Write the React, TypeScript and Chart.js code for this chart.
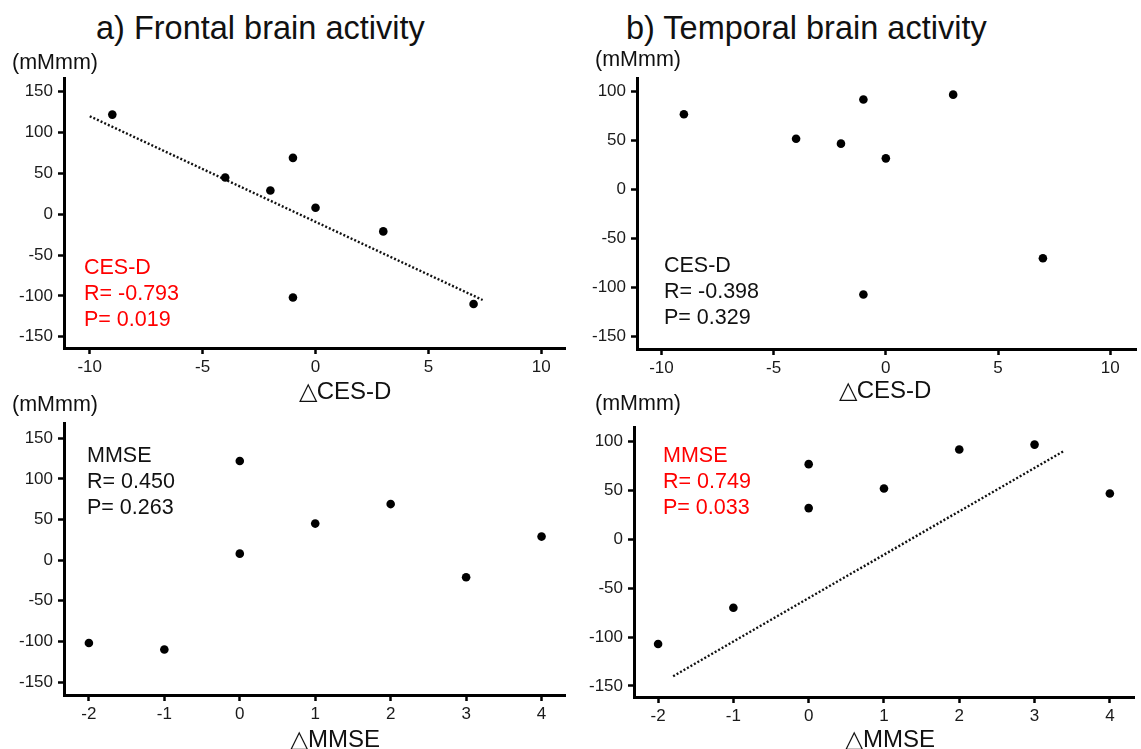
import React, { useEffect, useRef } from "react";
import { Chart, registerables } from "chart.js";

Chart.register(...registerables);
Chart.defaults.font.family = "'Liberation Sans', Arial, sans-serif";

// ---- data (8 subjects) ----
const cesdChange = [-9, -4, -2, -1, 0, 3, 7, -1];
const mmseChange = [0, 1, 4, 2, 0, 3, -1, -2];
const frontalActivity = [122, 45, 29, 69, 8, -21, -110, -102];
const temporalActivity = [77, 52, 47, 92, 32, 97, -70, -107];

// ---- tick labels ----
const cesdTicks = [-10, -5, 0, 5, 10];
const mmseTicks = [-2, -1, 0, 1, 2, 3, 4];
const frontalTicks = [-150, -100, -50, 0, 50, 100, 150];
const temporalTicks = [-150, -100, -50, 0, 50, 100];

// ---- fitted (dotted) lines, endpoints as drawn ----
const frontalCesdFitX = [-10, 7.4];
const frontalCesdFitY = [120, -105];
const temporalMmseFitX = [-1.8, 3.38];
const temporalMmseFitY = [-140, 90];

// ---- texts ----
const frontalCesdStats = ["CES-D", "R= -0.793", "P= 0.019"];
const temporalCesdStats = ["CES-D", "R= -0.398", "P= 0.329"];
const frontalMmseStats = ["MMSE", "R= 0.450", "P= 0.263"];
const temporalMmseStats = ["MMSE", "R= 0.749", "P= 0.033"];

const WY = 60;
const HX = 42;
const PT = 16;

type PanelDef = {
  area: { left: number; top: number; right: number; bottom: number };
  padRight: number;
  xs: number[];
  ys: number[];
  xTicks: number[];
  yTicks: number[];
  xMin: number;
  xMax: number;
  yMin: number;
  yMax: number;
  fitX?: number[];
  fitY?: number[];
};

const panels: PanelDef[] = [
  {
    area: { left: 64, top: 78, right: 567, bottom: 348 },
    padRight: 3,
    xs: cesdChange, ys: frontalActivity,
    xTicks: cesdTicks, yTicks: frontalTicks,
    xMin: -11.14, xMax: 11.08, yMin: -163.8, yMax: 166.8,
    fitX: frontalCesdFitX, fitY: frontalCesdFitY,
  },
  {
    area: { left: 637, top: 78, right: 1141, bottom: 349 },
    padRight: 0,
    xs: cesdChange, ys: temporalActivity,
    xTicks: cesdTicks, yTicks: temporalTicks,
    xMin: -11.09, xMax: 11.18, yMin: -162.6, yMax: 114,
  },
  {
    area: { left: 64, top: 423, right: 567, bottom: 695 },
    padRight: 3,
    xs: mmseChange, ys: frontalActivity,
    xTicks: mmseTicks, yTicks: frontalTicks,
    xMin: -2.33, xMax: 4.32, yMin: -166, yMax: 168.8,
  },
  {
    area: { left: 634, top: 427, right: 1136, bottom: 697 },
    padRight: 3,
    xs: mmseChange, ys: temporalActivity,
    xTicks: mmseTicks, yTicks: temporalTicks,
    xMin: -2.32, xMax: 4.33, yMin: -161.3, yMax: 115,
    fitX: temporalMmseFitX, fitY: temporalMmseFitY,
  },
];

function ScatterPanel({ p }: { p: PanelDef }) {
  const ref = useRef<HTMLCanvasElement>(null);
  const w = WY + (p.area.right - p.area.left) + p.padRight;
  const h = PT + (p.area.bottom - p.area.top) + HX;
  useEffect(() => {
    if (!ref.current) return;
    const datasets: any[] = [
      {
        type: "scatter",
        data: p.xs.map((x, i) => ({ x, y: p.ys[i] })),
        pointRadius: 4.3,
        pointBackgroundColor: "#000",
        pointBorderWidth: 0,
        showLine: false,
        order: 1,
      },
    ];
    if (p.fitX && p.fitY) {
      datasets.push({
        type: "line",
        data: p.fitX.map((x, i) => ({ x, y: p.fitY![i] })),
        borderColor: "#111",
        borderWidth: 2.4,
        borderDash: [2, 2],
        pointRadius: 0,
        fill: false,
        tension: 0,
        order: 2,
      });
    }
    const tickFont = { size: 17 };
    const chart = new Chart(ref.current, {
      type: "scatter",
      data: { datasets },
      options: {
        animation: false,
        responsive: false,
        maintainAspectRatio: false,
        events: [],
        layout: { padding: { top: PT, right: p.padRight, left: 0, bottom: 0 } },
        plugins: { legend: { display: false }, tooltip: { enabled: false } },
        scales: {
          x: {
            type: "linear",
            min: p.xMin,
            max: p.xMax,
            afterBuildTicks: (s: any) => {
              s.ticks = p.xTicks.map((v) => ({ value: v }));
            },
            afterFit: (s: any) => {
              s.height = HX;
            },
            grid: {
              display: true,
              drawOnChartArea: false,
              drawTicks: true,
              tickLength: 6,
              tickWidth: 2.5,
              tickColor: "#000",
            },
            border: { display: true, color: "#000", width: 3 },
            ticks: { font: tickFont, color: "#1a1a1a", padding: 3, maxRotation: 0, autoSkip: false },
          },
          y: {
            type: "linear",
            min: p.yMin,
            max: p.yMax,
            afterBuildTicks: (s: any) => {
              s.ticks = p.yTicks.map((v) => ({ value: v }));
            },
            afterFit: (s: any) => {
              s.width = WY;
            },
            grid: {
              display: true,
              drawOnChartArea: false,
              drawTicks: true,
              tickLength: 6,
              tickWidth: 2.5,
              tickColor: "#000",
            },
            border: { display: true, color: "#000", width: 3 },
            ticks: { font: tickFont, color: "#1a1a1a", padding: 5, autoSkip: false },
          },
        },
      } as any,
    });
    return () => chart.destroy();
  }, []);
  return (
    <canvas
      ref={ref}
      width={w}
      height={h}
      style={{
        position: "absolute",
        left: p.area.left - WY,
        top: p.area.top - PT,
        width: w,
        height: h,
      }}
    />
  );
}

const font = "'Liberation Sans', Arial, sans-serif";

function Label({
  text, x, y, size, color = "#111", center = false,
}: { text: string; x: number; y: number; size: number; color?: string; center?: boolean }) {
  return (
    <div
      style={{
        position: "absolute",
        left: x,
        top: y,
        transform: center ? "translate(-50%, -50%)" : "translateY(-50%)",
        fontFamily: font,
        fontSize: size,
        lineHeight: 1,
        color,
        whiteSpace: "nowrap",
      }}
    >
      {text}
    </div>
  );
}

function Stats({ lines, x, y, color }: { lines: string[]; x: number; y: number; color: string }) {
  return (
    <div
      style={{
        position: "absolute",
        left: x,
        top: y - 13,
        fontFamily: font,
        fontSize: 21.5,
        lineHeight: "26px",
        color,
        whiteSpace: "nowrap",
      }}
    >
      {lines.map((l, i) => (
        <div key={i}>{l}</div>
      ))}
    </div>
  );
}

export default function App() {
  return (
    <div
      style={{
        position: "absolute",
        left: 0,
        top: 0,
        width: 1141,
        height: 749,
        background: "#fff",
        overflow: "hidden",
      }}
    >
      {panels.map((p, i) => (
        <ScatterPanel key={i} p={p} />
      ))}

      <Label text="a) Frontal brain activity" x={96} y={28} size={32.5} />
      <Label text="b) Temporal brain activity" x={626} y={28} size={32.5} />

      <Label text="(mMmm)" x={12} y={63} size={21.5} />
      <Label text="(mMmm)" x={595} y={60} size={21.5} />
      <Label text="(mMmm)" x={12} y={405} size={21.5} />
      <Label text="(mMmm)" x={595} y={404} size={21.5} />

      <Label text="△CES-D" x={345} y={391} size={24} center />
      <Label text="△CES-D" x={885} y={390} size={24} center />
      <Label text="△MMSE" x={335} y={739} size={24} center />
      <Label text="△MMSE" x={890} y={739} size={24} center />

      <Stats lines={frontalCesdStats} x={84} y={267} color="#ff0000" />
      <Stats lines={temporalCesdStats} x={664} y={265} color="#111" />
      <Stats lines={frontalMmseStats} x={87} y={455} color="#111" />
      <Stats lines={temporalMmseStats} x={663} y={455} color="#ff0000" />
    </div>
  );
}
